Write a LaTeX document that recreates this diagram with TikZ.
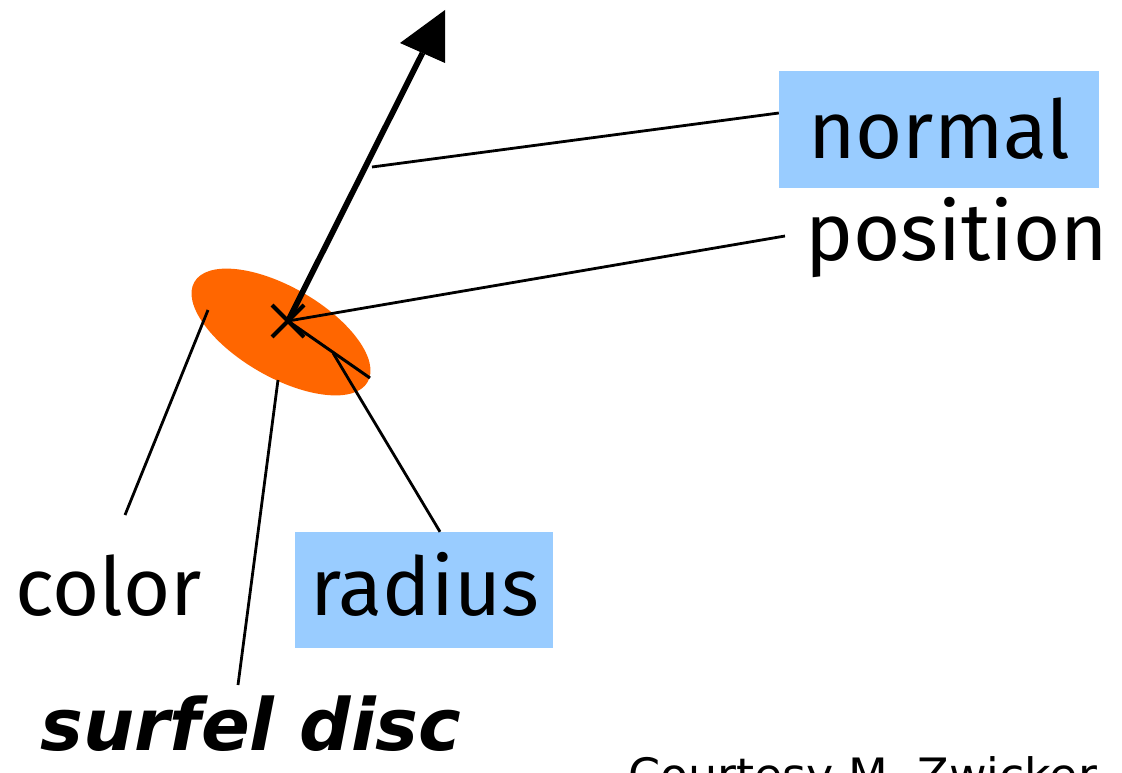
\documentclass[tikz,border=0pt]{standalone}
\usepackage{fontspec}
\setmainfont{Fira Sans}
\newfontfamily\credfont{DejaVu Sans}
\definecolor{boxblue}{HTML}{99CCFF}
\definecolor{discorange}{HTML}{FF6600}
\begin{document}
\begin{tikzpicture}[x=1pt,y=-1pt,
  lbl/.style={font=\fontsize{81}{81}\selectfont, inner sep=0pt, anchor=base west},
  bluebox/.style={fill=boxblue, inner sep=0pt},
  conn/.style={line width=2.8pt},
  shaft/.style={line width=5.8pt}]
\useasboundingbox (0,0) rectangle (1122,773);
\clip (0,0) rectangle (1122,773);
% boxes
\node[bluebox, minimum width=320pt, minimum height=117pt] (normalbox) at (939,129.5) {};
\node[bluebox, minimum width=258pt, minimum height=116pt] (radiusbox) at (424,590) {};
% disc
\coordinate (disc) at (281,332);
\fill[discorange, rotate around={-30:(disc)}] (disc) ellipse [x radius=100, y radius=45];
% labels
\node[lbl] (normal) at (808,158) {normal};
\node[lbl] (position) at (805,260) {position};
\node[lbl] (color) at (15,615) {color};
\node[lbl] (radius) at (310,615) {radius};
\node[lbl, font=\fontsize{72}{72}\credfont\bfseries\itshape] (surfel) at (40,750) {surfel disc};
\node[lbl, font=\fontsize{46}{46}\credfont] (credit) at (628,791) {Courtesy M. Zwicker};
% centre, cross
\coordinate (ctr) at (288,321);
\draw[line width=4pt] (272,305) -- (304,337) (272,337) -- (304,305);
% radius segment
\coordinate (rim) at (370,378);
\draw[line width=3pt] (ctr) -- (rim);
% normal arrow
\coordinate (hbase) at (422.5,53);
\coordinate (tip) at (445,10);
\draw[shaft] (ctr) -- (hbase);
\fill (tip) -- (400,43) -- (445,63) -- cycle;
% connectors
\coordinate (nrmpt) at (372,167);
\draw[conn] (nrmpt) -- (normalbox.west |- 0,113);
\draw[conn] (ctr) -- ([xshift=-20pt]position.west |- 0,236);
\coordinate (colpt) at (208,310);
\draw[conn] (colpt) -- (125,515);
\coordinate (surfpt) at (278,380);
\draw[conn] (surfpt) -- (238,685);
\coordinate (radpt) at (333,353);
\draw[conn] (radpt) -- (radiusbox.north west -| 440,0);
\end{tikzpicture}
\end{document}
